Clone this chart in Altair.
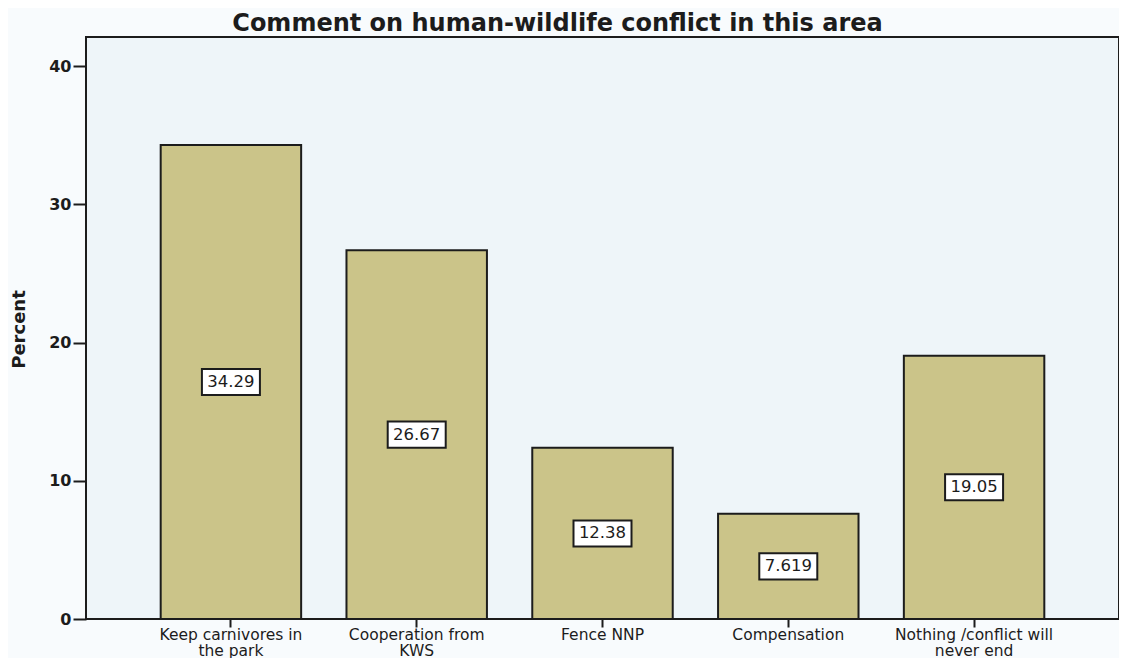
import altair as alt
import pandas as pd

categories = ["Keep carnivores in|the park", "Cooperation from|KWS", "Fence NNP",
              "Compensation", "Nothing /conflict will|never end"]
percents = [34.29, 26.67, 12.38, 7.619, 19.05]
labels = ["34.29", "26.67", "12.38", "7.619", "19.05"]
y_ticks = [0, 10, 20, 30, 40]

df = pd.DataFrame({"category": categories, "percent": percents, "label": labels})

FONT = "DejaVu Sans"
INK = "#1c1c1c"

x = alt.X(
    "category:N", sort=categories, title=None,
    scale=alt.Scale(paddingInner=0.244, paddingOuter=0.402),
    axis=alt.Axis(labelAngle=0, labelExpr="split(datum.label, '|')", labelFont=FONT,
                  labelFontSize=15.5, labelLineHeight=16, labelColor=INK, tickSize=8,
                  tickColor=INK, tickWidth=2, domain=False, labelPadding=0),
)

y_axis = alt.Axis(values=y_ticks, grid=False, domain=False, tickSize=13, tickWidth=2,
                  tickColor=INK, labelFont=FONT, labelFontSize=16, labelFontWeight="bold",
                  labelColor=INK, labelPadding=2, titleFont=FONT, titleFontSize=18,
                  titleFontWeight="bold", titleColor=INK, titleX=-67, titleY=292,
                  titleAngle=270, titleAlign="center", titleBaseline="middle")
y_scale = alt.Scale(domain=[0, 42.1], nice=False, zero=True)

base = alt.Chart(df).transform_calculate(mid="datum.percent / 2")

bars = base.mark_bar(color="#cbc489", stroke=INK, strokeWidth=2).encode(
    x=x, y=alt.Y("percent:Q", title="Percent", scale=y_scale, axis=y_axis))

box_shape = "M-1,-0.45L1,-0.45L1,0.45L-1,0.45Z"
boxes = base.mark_point(shape=box_shape, size=58 * 58, filled=True, fill="white",
                        stroke=INK, strokeWidth=2, opacity=1).encode(
    x=x, y=alt.Y("mid:Q", title="Percent", scale=y_scale, axis=y_axis))

texts = base.mark_text(font=FONT, fontSize=16.5, color=INK, baseline="middle",
                       align="center").encode(
    x=x, y=alt.Y("mid:Q", title="Percent", scale=y_scale, axis=y_axis), text="label:N")

chart = alt.layer(bars, boxes, texts).properties(
    width=1033, height=582,
    autosize="none",
    padding={"left": 78, "top": 29, "right": 0, "bottom": 39},
    title=alt.TitleParams("Comment on human-wildlife conflict in this area", font=FONT,
                          fontSize=24, fontWeight="bold", anchor="middle", dx=-45,
                          offset=1, color=INK),
).configure(background="#f8fbfd").configure_view(fill="#eef5f9", stroke=INK, strokeWidth=2)

chart.save("out.html", embed_options={"renderer": "svg", "actions": False})
